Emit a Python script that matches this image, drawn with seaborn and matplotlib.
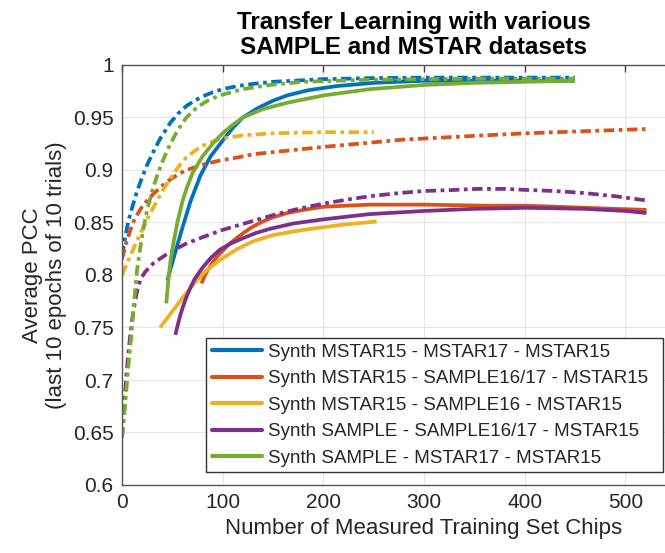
import numpy as np
import pandas as pd
import matplotlib
matplotlib.use('Agg')
import matplotlib.pyplot as plt
from matplotlib.lines import Line2D
import seaborn as sns

# series names (legend order) and MATLAB default colours
series_names = ['Synth MSTAR15 - MSTAR17 - MSTAR15',
                'Synth MSTAR15 - SAMPLE16/17 - MSTAR15',
                'Synth MSTAR15 - SAMPLE16 - MSTAR15',
                'Synth SAMPLE - SAMPLE16/17 - MSTAR15',
                'Synth SAMPLE - MSTAR17 - MSTAR15']
series_colors = ['#0072BD', '#D95319', '#EDB120', '#7E2F8E', '#77AC30']

# solid curves
blue_solid_x = [45, 48, 53, 60, 68, 78, 88, 100, 110, 120, 135, 150, 164, 185, 214, 250, 300, 380, 450]
blue_solid_y = [0.795, 0.805, 0.822, 0.845, 0.870, 0.895, 0.913, 0.928, 0.940, 0.950, 0.959, 0.966, 0.971,
                0.976, 0.980, 0.983, 0.985, 0.985, 0.985]
orange_solid_x = [79, 82, 86, 90, 95, 100, 107, 115, 122, 130, 140, 150, 164, 180, 200, 246, 300, 360,
                  402, 460, 521]
orange_solid_y = [0.792, 0.799, 0.806, 0.812, 0.818, 0.823, 0.830, 0.836, 0.841, 0.846, 0.851, 0.855,
                  0.859, 0.862, 0.865, 0.867, 0.867, 0.866, 0.866, 0.864, 0.862]
yellow_solid_x = [38, 45, 52, 60, 70, 80, 90, 100, 115, 130, 150, 180, 220, 253]
yellow_solid_y = [0.750, 0.759, 0.768, 0.778, 0.790, 0.801, 0.809, 0.816, 0.825, 0.832, 0.838, 0.843,
                  0.848, 0.851]
purple_solid_x = [53, 55, 58, 61, 64, 68, 72, 80, 88, 97, 108, 120, 133, 147, 170, 200, 246, 300, 350,
                  402, 460, 500, 521]
purple_solid_y = [0.743, 0.751, 0.762, 0.771, 0.779, 0.788, 0.796, 0.807, 0.816, 0.824, 0.830, 0.835,
                  0.840, 0.844, 0.849, 0.853, 0.858, 0.861, 0.863, 0.864, 0.863, 0.861, 0.859]
green_solid_x = [44, 46, 48, 51, 55, 60, 64, 70, 80, 90, 100, 110, 120, 140, 164, 200, 246, 300, 350,
                 400, 450]
green_solid_y = [0.773, 0.795, 0.812, 0.830, 0.850, 0.870, 0.882, 0.897, 0.913, 0.925, 0.935, 0.943,
                 0.950, 0.958, 0.964, 0.971, 0.977, 0.981, 0.983, 0.984, 0.985]

# dash-dot curves
blue_dash_x = [0, 3, 6, 10, 15, 20, 25, 31, 38, 48, 56, 64, 72, 80, 90, 100, 115, 130, 150, 170, 200,
               246, 300, 350, 400, 450]
blue_dash_y = [0.818, 0.835, 0.850, 0.864, 0.880, 0.893, 0.905, 0.917, 0.930, 0.945, 0.954, 0.961,
               0.966, 0.970, 0.974, 0.977, 0.980, 0.982, 0.984, 0.985, 0.9865, 0.9875, 0.988, 0.988,
               0.988, 0.988]
orange_dash_x = [0, 4, 8, 12, 16, 20, 25, 31, 40, 48, 56, 64, 80, 97, 115, 130, 160, 200, 246, 280,
                 320, 360, 402, 460, 520]
orange_dash_y = [0.815, 0.830, 0.842, 0.852, 0.859, 0.865, 0.871, 0.877, 0.885, 0.891, 0.896, 0.900,
                 0.905, 0.909, 0.912, 0.915, 0.918, 0.922, 0.926, 0.929, 0.931, 0.933, 0.935, 0.937,
                 0.939]
yellow_dash_x = [0, 5, 10, 15, 21, 26, 31, 40, 48, 56, 64, 72, 80, 90, 100, 120, 150, 200, 250]
yellow_dash_y = [0.800, 0.811, 0.822, 0.833, 0.845, 0.855, 0.864, 0.880, 0.892, 0.903, 0.912, 0.918,
                 0.923, 0.927, 0.930, 0.933, 0.935, 0.936, 0.936]
purple_dash_x = [0, 2, 4, 6, 8, 10, 13, 16, 19, 23, 27, 31, 40, 48, 64, 80, 100, 125, 150, 175, 200,
                 225, 246, 275, 300, 330, 352, 380, 402, 430, 460, 490, 521]
purple_dash_y = [0.645, 0.672, 0.700, 0.723, 0.741, 0.757, 0.775, 0.789, 0.797, 0.803, 0.807, 0.811,
                 0.817, 0.822, 0.830, 0.836, 0.843, 0.850, 0.857, 0.863, 0.868, 0.872, 0.875, 0.878,
                 0.880, 0.881, 0.882, 0.882, 0.881, 0.880, 0.878, 0.875, 0.871]
green_dash_x = [0, 3, 6, 9, 12, 15, 18, 21, 25, 30, 35, 41, 48, 56, 64, 75, 85, 97, 120, 147, 180, 246,
                350, 450]
green_dash_y = [0.645, 0.675, 0.710, 0.740, 0.775, 0.805, 0.825, 0.843, 0.862, 0.880, 0.895, 0.910,
                0.925, 0.939, 0.950, 0.960, 0.966, 0.971, 0.977, 0.981, 0.984, 0.986, 0.987, 0.987]

x_ticks = [0, 100, 200, 300, 400, 500]
y_ticks = [0.6, 0.65, 0.7, 0.75, 0.8, 0.85, 0.9, 0.95, 1.0]
y_ticklabels = ['0.6', '0.65', '0.7', '0.75', '0.8', '0.85', '0.9', '0.95', '1']

solid = [(blue_solid_x, blue_solid_y), (orange_solid_x, orange_solid_y), (yellow_solid_x, yellow_solid_y),
         (purple_solid_x, purple_solid_y), (green_solid_x, green_solid_y)]
dash = [(blue_dash_x, blue_dash_y), (orange_dash_x, orange_dash_y), (yellow_dash_x, yellow_dash_y),
        (purple_dash_x, purple_dash_y), (green_dash_x, green_dash_y)]

rows = []
for name, (xs, ys) in zip(series_names, solid):
    for x, y in zip(xs, ys):
        rows.append((name, 'solid', x, y))
for name, (xs, ys) in zip(series_names, dash):
    for x, y in zip(xs, ys):
        rows.append((name, 'dashdot', x, y))
df = pd.DataFrame(rows, columns=['series', 'kind', 'chips', 'pcc'])

sns.set_theme(style='whitegrid')
plt.rcParams['font.family'] = ['Liberation Sans', 'DejaVu Sans']

fig = plt.figure(figsize=(6.65, 5.53), dpi=100)
ax = fig.add_axes([122 / 665, (553 - 485) / 553, (726 - 122) / 665, (485 - 65) / 553])

sns.lineplot(data=df, x='chips', y='pcc', hue='series', style='kind',
             hue_order=series_names, palette=series_colors,
             style_order=['solid', 'dashdot'],
             dashes={'solid': '', 'dashdot': (2.8, 1.2, 1.0, 1.2)},
             linewidth=2.7, legend=False, ax=ax, sort=True, estimator=None)
for ln in ax.get_lines():
    ln.set_solid_capstyle('butt')
    ln.set_dash_capstyle('butt')
    ln.set_solid_joinstyle('round')

ax.set_xlim(0, 600)
ax.set_ylim(0.6, 1.0)
ax.set_xticks(x_ticks)
ax.set_yticks(y_ticks)
ax.set_yticklabels(y_ticklabels)
ax.grid(True, color='#e6e6e6', linewidth=0.8)
ax.tick_params(direction='in', length=5, width=1, colors='#404040', labelcolor='#262626',
               labelsize=15, top=True, right=True, pad=6)
for s in ax.spines.values():
    s.set_color('#555555')
    s.set_linewidth(1.0)

ax.set_xlabel('Number of Measured Training Set Chips', fontsize=16, color='#262626', labelpad=4)
ax.set_ylabel('Average PCC\n(last 10 epochs of 10 trials)', fontsize=16, color='#262626', labelpad=4)

fig.text(414 / 665, 1 - 11 / 553, 'Transfer Learning with various\nSAMPLE and MSTAR datasets',
         ha='center', va='top', fontsize=17.5, fontweight='bold', color='black', linespacing=1.1)

handles = [Line2D([0], [0], color=c, lw=3) for c in series_colors]
leg = fig.legend(handles, series_names, loc='upper left',
                 bbox_to_anchor=(206 / 665, 1 - 471 / 553, (663 - 206) / 665, (471 - 338) / 553),
                 mode='expand', fontsize=13.5, frameon=True, fancybox=False, framealpha=1,
                 edgecolor='#333333', handlelength=2.7, handletextpad=0.3, labelspacing=0.5,
                 borderpad=0.3, borderaxespad=0)
leg.get_frame().set_linewidth(1.0)

fig.savefig('out.png', dpi=100)
